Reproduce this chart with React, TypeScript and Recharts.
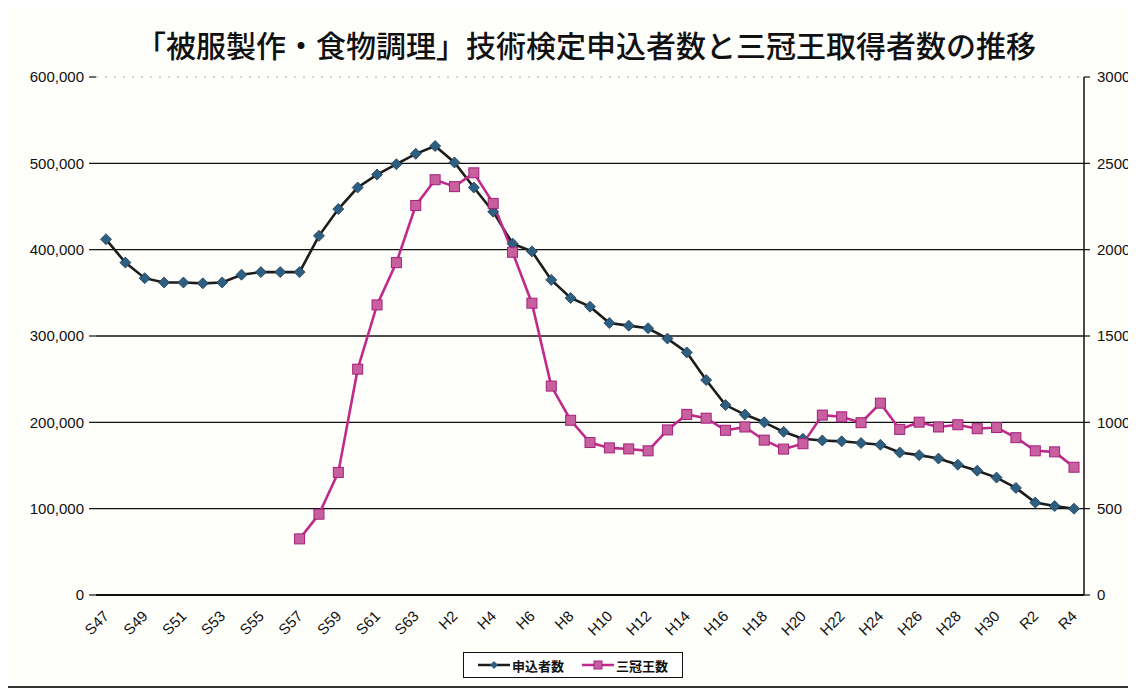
import { LineChart, Line, XAxis, YAxis, CartesianGrid } from "recharts";

const years = [
  "S47", "S48", "S49", "S50", "S51", "S52", "S53", "S54", "S55", "S56", "S57", "S58", "S59", "S60", "S61", "S62", "S63",
  "H1", "H2", "H3", "H4", "H5", "H6", "H7", "H8", "H9", "H10", "H11", "H12", "H13", "H14", "H15", "H16", "H17", "H18",
  "H19", "H20", "H21", "H22", "H23", "H24", "H25", "H26", "H27", "H28", "H29", "H30",
  "R1", "R2", "R3", "R4",
];

// 申込者数 (left axis)
const applicants = [
  412000, 385000, 367000, 362000, 362000, 361000, 362000, 371000, 374000, 374000, 374000, 416000, 447000, 472000, 487000, 499000, 511000,
  520000, 501000, 472000, 444000, 407000, 398000, 365000, 344000, 334000, 315000, 312000, 309000, 297000, 281000, 249000, 220000, 209000, 200000,
  189000, 181000, 179000, 178000, 176000, 174000, 165000, 162000, 158000, 151000, 144000, 136000,
  124000, 107000, 103000, 100000,
];

// 三冠王数 (right axis)
const champions = [
  null, null, null, null, null, null, null, null, null, null, 325, 468, 710, 1308, 1680, 1925, 2256,
  2405, 2365, 2445, 2268, 1985, 1690, 1210, 1012, 883, 852, 846, 835, 956, 1046, 1024, 954, 973, 897,
  845, 876, 1042, 1032, 998, 1111, 959, 1001, 973, 986, 963, 970,
  911, 835, 829, 740,
];

const leftTicks = [0, 100000, 200000, 300000, 400000, 500000, 600000];
const rightTicks = [0, 500, 1000, 1500, 2000, 2500, 3000];

const data = years.map((year, i) => ({ year, applicants: applicants[i], champions: champions[i] }));

const FONT = "'Liberation Sans', Arial, sans-serif";
const JP = "'Noto Sans CJK JP', 'Noto Sans', sans-serif";

const Diamond = (p: any) => {
  const { cx, cy, index } = p;
  if (cx == null || cy == null) return <g key={`d-${index}`} />;
  const r = 5.5;
  return (
    <path
      key={`d-${index}`}
      d={`M${cx},${cy - r}L${cx + r},${cy}L${cx},${cy + r}L${cx - r},${cy}Z`}
      fill="#2f5f80"
      stroke="#1d3f58"
      strokeWidth={0.8}
    />
  );
};

const Square = (p: any) => {
  const { cx, cy, index } = p;
  if (cx == null || cy == null) return <g key={`s-${index}`} />;
  const r = 5;
  return (
    <rect
      key={`s-${index}`}
      x={cx - r}
      y={cy - r}
      width={r * 2}
      height={r * 2}
      fill="#c860a0"
      stroke="#a4207a"
      strokeWidth={1}
    />
  );
};

const gridLine = (p: any) => {
  const top = p.y1 < 80;
  return (
    <line
      key={p.key ?? `g-${p.index}`}
      x1={p.x1}
      y1={p.y1}
      x2={p.x2}
      y2={p.y2}
      stroke={top ? "#aaa" : "#111"}
      strokeWidth={top ? 1 : 1.4}
      strokeDasharray={top ? "2 7" : undefined}
    />
  );
};

const XTick = ({ x, y, payload }: any) => (
  <text
    x={x + 4}
    y={y + 14}
    transform={`rotate(-45 ${x + 4} ${y + 14})`}
    textAnchor="end"
    fontSize={15}
    fontFamily={FONT}
    fill="#111"
  >
    {payload.value}
  </text>
);

export default function App() {
  return (
    <div
      style={{
        position: "relative",
        width: 1134,
        height: 688,
        marginLeft: -6,
        marginTop: -8,
        boxSizing: "border-box",
        borderLeft: "2px solid #333",
        borderBottom: "2px solid #333",
        background: "#fefefb",
      }}
    >
      <div
        style={{
          position: "absolute",
          left: 0,
          width: 1164,
          top: 22,
          textAlign: "center",
          fontFamily: JP,
          fontSize: 30,
          fontWeight: 500,
          color: "#111",
          whiteSpace: "nowrap",
        }}
      >
        「被服製作・食物調理」技術検定申込者数と三冠王取得者数の推移
      </div>
      <div style={{ position: "absolute", left: 0, top: 0 }}>
        <LineChart width={1145} height={680} data={data} margin={{ top: 77, right: 15, bottom: 0, left: 7 }}>
          <CartesianGrid vertical={false} horizontal={gridLine} yAxisId="left" />
          <XAxis
            dataKey="year"
            interval={1}
            height={85}
            padding={{ left: 10, right: 10 }}
            tick={<XTick />}
            tickLine={false}
            axisLine={{ stroke: "#111", strokeWidth: 2 }}
          />
          <YAxis
            yAxisId="left"
            width={85}
            domain={[0, 600000]}
            ticks={leftTicks}
            tickFormatter={(v: number) => v.toLocaleString("en-US")}
            axisLine={false}
            tickLine={{ stroke: "#111", strokeWidth: 1.2 }}
            tickSize={7}
            tickMargin={5}
            tick={{ fontSize: 15, fontFamily: FONT, fill: "#111" }}
          />
          <YAxis
            yAxisId="right"
            orientation="right"
            width={50}
            domain={[0, 3000]}
            ticks={rightTicks}
            axisLine={{ stroke: "#111", strokeWidth: 1.5 }}
            tickLine={{ stroke: "#111", strokeWidth: 1.2 }}
            tickSize={6}
            tickMargin={7}
            tick={{ fontSize: 15, fontFamily: FONT, fill: "#111", textAnchor: "start" }}
          />
          <Line
            yAxisId="left"
            type="linear"
            dataKey="applicants"
            stroke="#1c1c1c"
            strokeWidth={2.6}
            dot={Diamond}
            activeDot={false}
            isAnimationActive={false}
          />
          <Line
            yAxisId="right"
            type="linear"
            dataKey="champions"
            stroke="#c02a8a"
            strokeWidth={2.6}
            dot={Square}
            activeDot={false}
            connectNulls={false}
            isAnimationActive={false}
          />
        </LineChart>
      </div>
      <div
        style={{
          position: "absolute",
          left: 459,
          top: 652,
          width: 218,
          height: 24,
          border: "1.5px solid #111",
          display: "flex",
          alignItems: "center",
          justifyContent: "center",
          gap: 18,
          fontFamily: JP,
          fontSize: 13,
          fontWeight: 700,
          color: "#111",
          background: "#fff",
        }}
      >
        <span style={{ display: "flex", alignItems: "center", gap: 2 }}>
          <svg width={32} height={10}>
            <line x1={0} y1={5} x2={32} y2={5} stroke="#1c1c1c" strokeWidth={2.5} />
            <path d="M16,1L20,5L16,9L12,5Z" fill="#2f5f80" />
          </svg>
          申込者数
        </span>
        <span style={{ display: "flex", alignItems: "center", gap: 2 }}>
          <svg width={32} height={10}>
            <line x1={0} y1={5} x2={32} y2={5} stroke="#c02a8a" strokeWidth={2.5} />
            <rect x={12} y={1} width={8} height={8} fill="#c860a0" stroke="#a4207a" />
          </svg>
          三冠王数
        </span>
      </div>
    </div>
  );
}
